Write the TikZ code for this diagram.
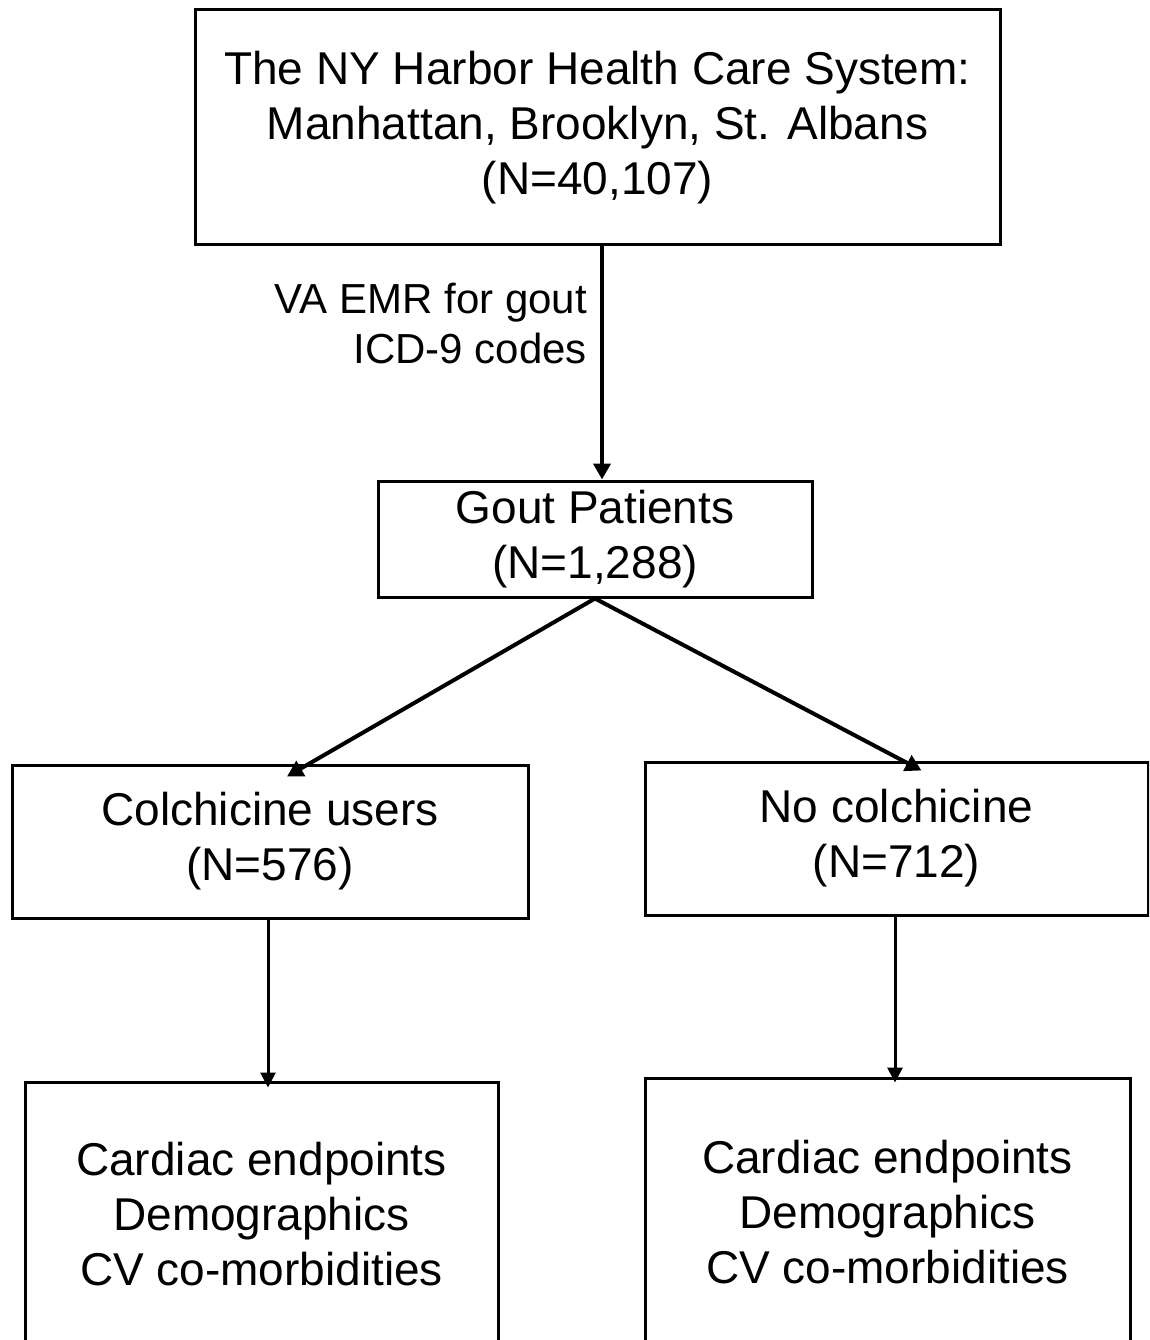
\documentclass[tikz,border=0pt]{standalone}
\usepackage{fontspec}
\setmainfont{Liberation Sans}
\usetikzlibrary{arrows.meta}
\begin{document}
\begin{tikzpicture}[x=1pt,y=-1pt,
  box/.style={draw=black,line width=3pt,fill=white,inner sep=0pt,align=center,
    font=\fontsize{46}{55}\selectfont},
  lbl/.style={inner sep=0pt,align=right,font=\fontsize{42}{50}\selectfont},
  arr/.style={draw=black,line width=4pt,-{Triangle[width=17pt,length=16pt]}},
  arrthin/.style={draw=black,line width=3pt,-{Triangle[width=15pt,length=15pt]}}
]
\useasboundingbox (0,0) rectangle (1149,1340);
\clip (0,0) rectangle (1149,1340);
\fill[white] (0,0) rectangle (1149,1340);

\node[box,minimum width=805pt,minimum height=235pt] (top) at (597.5,127.5)
  {The NY Harbor Health Care System:\\Manhattan, Brooklyn, St. Albans\\(N=40,107)};
\node[box,minimum width=434pt,minimum height=116pt] (gout) at (595,539)
  {Gout Patients\\(N=1,288)};
\node[box,minimum width=516pt,minimum height=153pt] (colch) at (270,841.5)
  {Colchicine users\\(N=576)};
\node[box,minimum width=503pt,minimum height=153pt] (nocol) at (896.5,838.5)
  {No colchicine\\(N=712)};
\node[box,minimum width=473pt,minimum height=264pt] (bl) at (261.5,1214)
  {Cardiac endpoints\\Demographics\\CV co-morbidities};
\node[box,minimum width=485pt,minimum height=268pt] (br) at (887.5,1212)
  {Cardiac endpoints\\Demographics\\CV co-morbidities};

\node[lbl,anchor=east] (emr) at (587,324) {VA EMR for gout\\ICD-9 codes};

\draw[arr] ([xshift=4.5pt]top.south) -- ([xshift=7pt]gout.north);
\draw[arr] (gout.south) -- ([xshift=17pt,yshift=-13pt]colch.north);
\draw[arr] (gout.south) -- ([xshift=25pt,yshift=-10pt]nocol.north);
\draw[arrthin] ([xshift=-2pt]colch.south) -- ([xshift=6.5pt,yshift=-7pt]bl.north);
\draw[arrthin] ([xshift=-1.5pt]nocol.south) -- ([xshift=7.5pt,yshift=-6pt]br.north);
\end{tikzpicture}
\end{document}
